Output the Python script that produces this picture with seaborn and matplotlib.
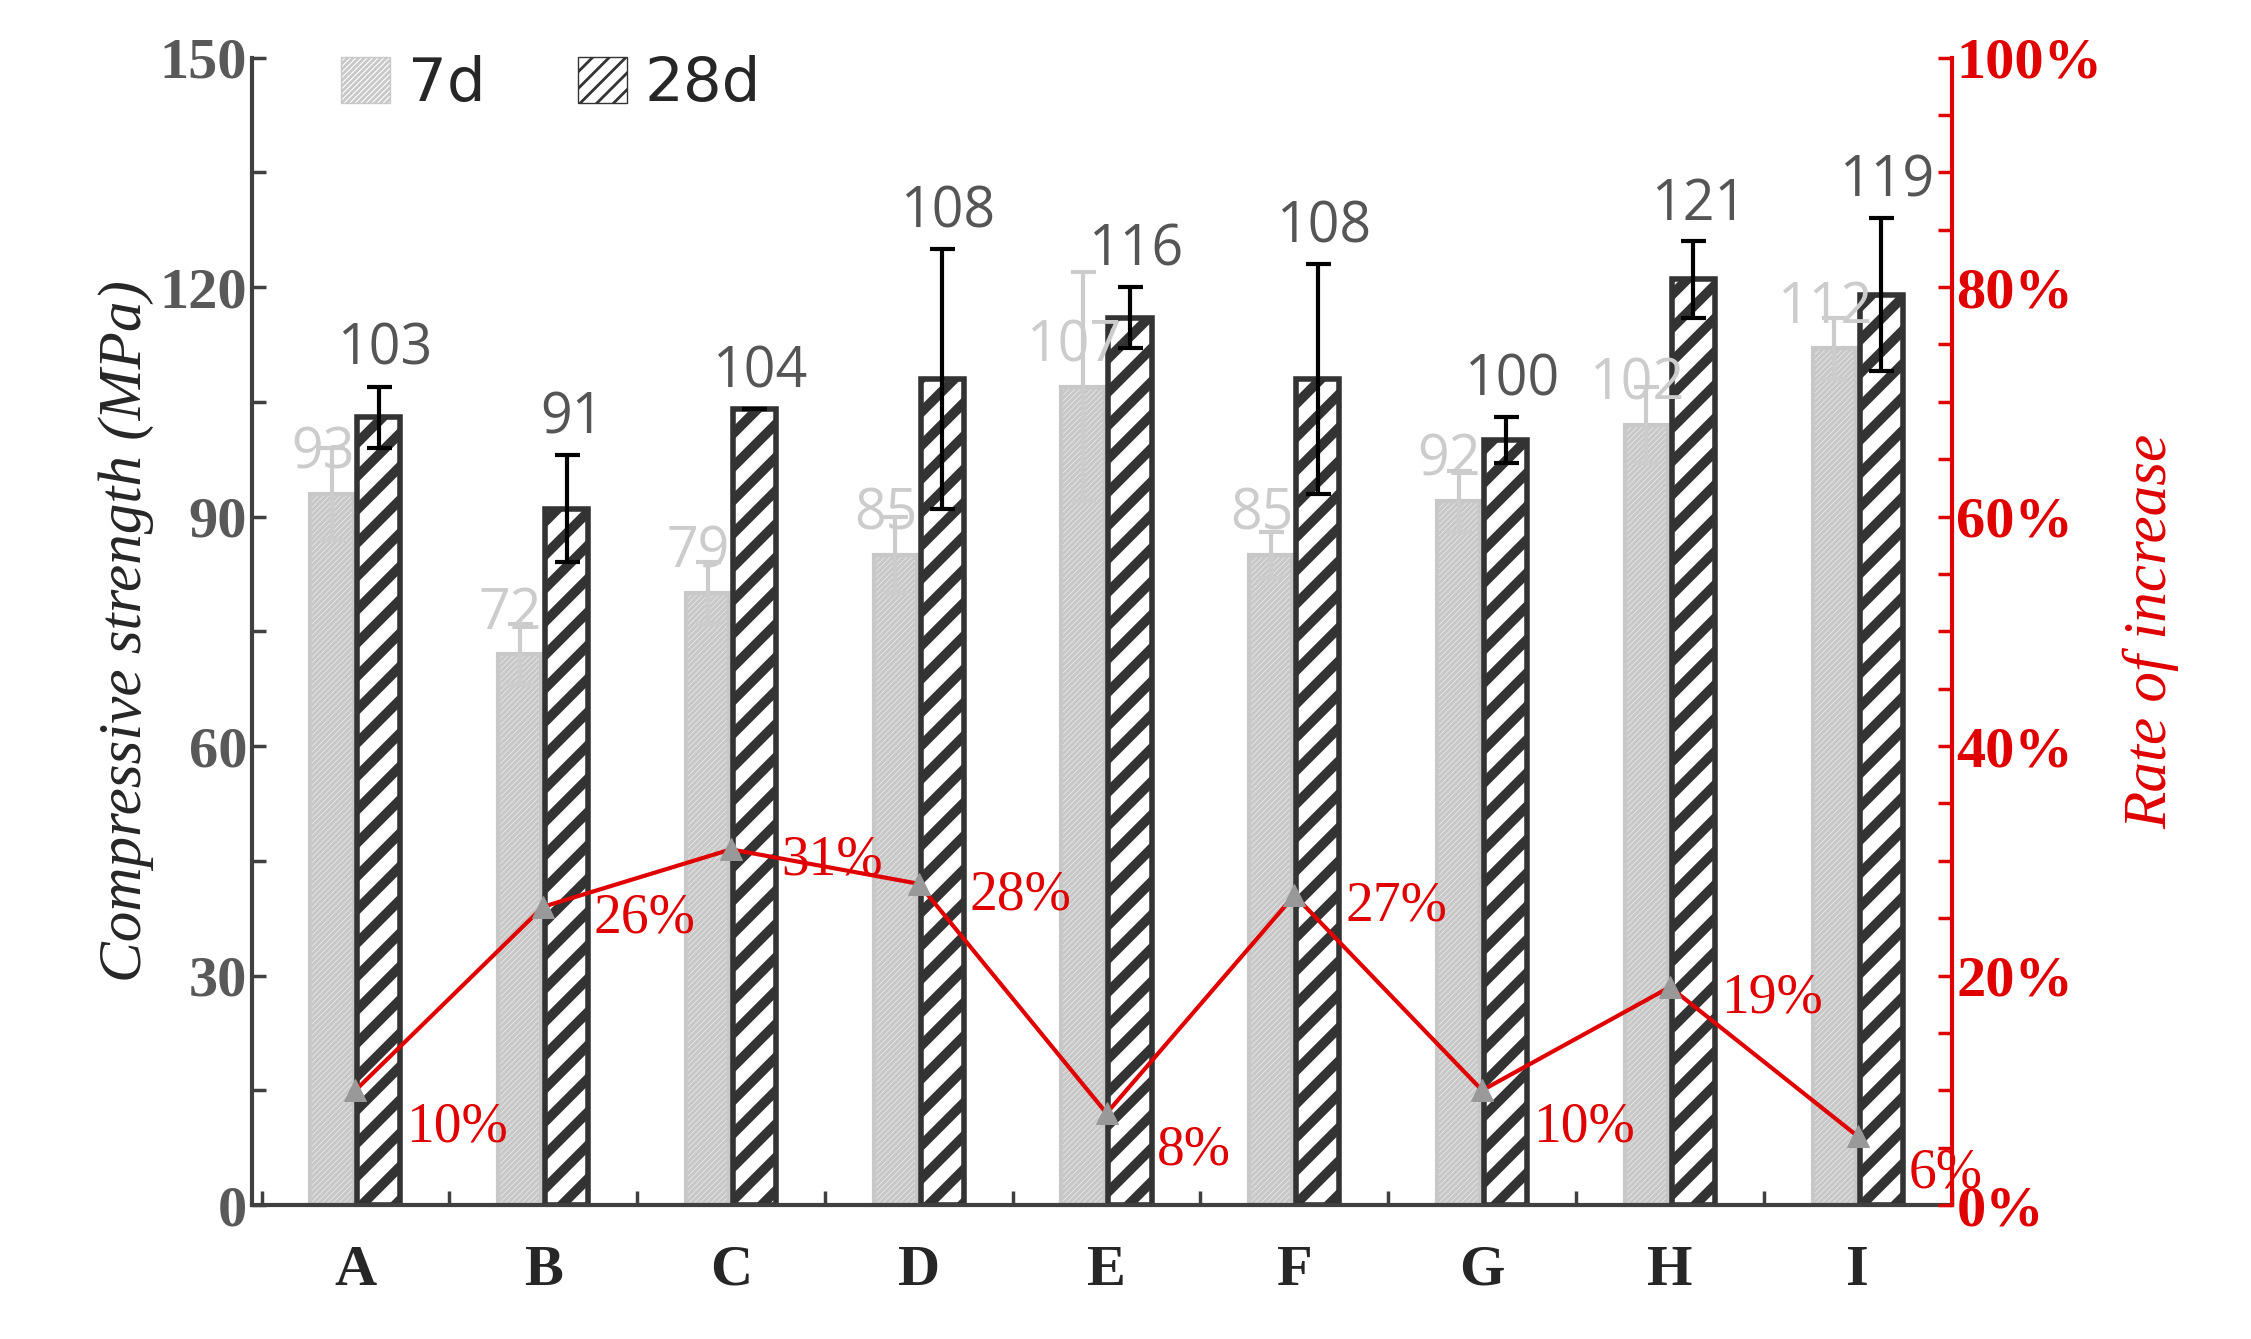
import matplotlib
matplotlib.use("Agg")
import matplotlib.pyplot as plt
import seaborn as sns
import pandas as pd
import numpy as np
from matplotlib.patches import Patch
from matplotlib.ticker import MultipleLocator, PercentFormatter

cats = ["A","B","C","D","E","F","G","H","I"]
s7 = [93,72,80,85,107,85,92,102,112]
e7 = [6,4,4,5,15,3,4,5,4]
lab7 = ["93","72","79","85","107","85","92","102","112"]
s28 = [103,91,104,108,116,108,100,121,119]
e28 = [4,7,0,17,4,15,3,5,10]
lab28 = ["103","91","104","108","116","108","100","121","119"]
rate = [10,26,31,28,8,27,10,19,6]

sns.set_style("white")
plt.rcParams['hatch.linewidth'] = 2.0
fig = plt.figure(figsize=(22.51,13.39), dpi=100)
ax = fig.add_axes([0.112,0.1,0.755,0.857])
df = pd.DataFrame({"cat":cats*2,"val":s7+s28,"age":["7d"]*9+["28d"]*9})
sns.barplot(data=df,x="cat",y="val",hue="age",ax=ax,width=0.5,gap=0.08,legend=False,errorbar=None)
pats = sorted(ax.patches, key=lambda p: p.get_x())
p7 = [p for i,p in enumerate(pats) if i%2==0]
p28 = [p for i,p in enumerate(pats) if i%2==1]
def hlw(p,w):
    try: p.set_hatch_linewidth(w)
    except Exception: pass
for p in p7:
    p.set_facecolor("white"); p.set_edgecolor("#c8c8c8"); p.set_hatch("//////"); p.set_linewidth(3); hlw(p,2.5)
for p in p28:
    p.set_facecolor("white"); p.set_edgecolor("#333333"); p.set_hatch("/"); p.set_linewidth(4); hlw(p,7)
for ps,vals,errs,labs,col,ecol in [(p7,s7,e7,lab7,"#cccccc","#cccccc"),(p28,s28,e28,lab28,"#555555","black")]:
    xs=[p.get_x()+p.get_width()/2 for p in ps]
    ax.errorbar(xs,vals,yerr=errs,fmt="none",ecolor=ecol,elinewidth=3,capsize=9,capthick=3)
    for x,v,e,l in zip(xs,vals,errs,labs):
        ax.text(x+(-0.05 if col=="#cccccc" else 0.03),v+e+1 if col!="#cccccc" else v+1.5,l,ha="center",va="bottom",
                fontsize=40,color=col,family="Open Sans")
ax.set_ylim(0,150); ax.set_xlim(-0.55,8.5)
ax.yaxis.set_major_locator(MultipleLocator(30)); ax.yaxis.set_minor_locator(MultipleLocator(15))
ax.set_xlabel(""); ax.set_ylabel("Compressive strength (MPa)",fontsize=44,style="italic",family="Liberation Serif")
for s in ["top","right"]: ax.spines[s].set_visible(False)
for s in ["left","bottom"]: ax.spines[s].set_color("#404040"); ax.spines[s].set_linewidth(3)
ax.tick_params(axis="y",which="both",left=True,direction="in",color="#404040",width=2.5,length=10,labelsize=42,labelcolor="#595959")
ax.tick_params(axis="x",bottom=False,pad=25,labelsize=42)
ax.set_xticks(range(9))
for t in ax.get_yticklabels(): t.set_fontweight("bold"); t.set_family("Liberation Serif")
for t in ax.get_xticklabels(): t.set_fontweight("bold"); t.set_family("Liberation Serif")
ax.xaxis.set_minor_locator(MultipleLocator(1, offset=0.5))
ax.tick_params(axis="x",which="minor",bottom=True,direction="in",length=10,width=2.5,color="#404040")

ax2 = ax.twinx()
sns.lineplot(x=list(range(9)),y=rate,ax=ax2,color="#e00000",linewidth=3,marker="^",markersize=16,
             markerfacecolor="#999999",markeredgecolor="#999999")
for i,r in enumerate(rate):
    ax2.text(i+0.27,r-1,f"{r}%",ha="left",va="top" if i in (0,4,6,8) else "center",fontsize=40,color="#e00000",family="Liberation Serif")
ax2.set_ylim(0,100)
ax2.yaxis.set_major_locator(MultipleLocator(20)); ax2.yaxis.set_minor_locator(MultipleLocator(5))
ax2.yaxis.set_major_formatter(PercentFormatter(decimals=0))
for s in ["top","left","bottom"]: ax2.spines[s].set_visible(False)
ax2.spines["right"].set_color("#e00000"); ax2.spines["right"].set_linewidth(3)
ax2.tick_params(axis="y",which="both",right=True,direction="in",color="#e00000",width=2.5,length=10,labelsize=42,labelcolor="#e00000")
for t in ax2.get_yticklabels(): t.set_fontweight("bold"); t.set_family("Liberation Serif")
ax2.set_ylabel("Rate of increase",fontsize=44,style="italic",family="Liberation Serif",color="#e00000",labelpad=15)

h=[Patch(facecolor="white",edgecolor="#c8c8c8",hatch="//////",label="7d"),
   Patch(facecolor="white",edgecolor="#333333",hatch="//",label="28d")]
ax.legend(handles=h,loc="upper left",ncol=2,frameon=False,fontsize=44,bbox_to_anchor=(0.02,1.05),
          handlelength=0.8,handleheight=0.8,columnspacing=1.5,handletextpad=0.3)
fig.savefig("out.png",dpi=100)
